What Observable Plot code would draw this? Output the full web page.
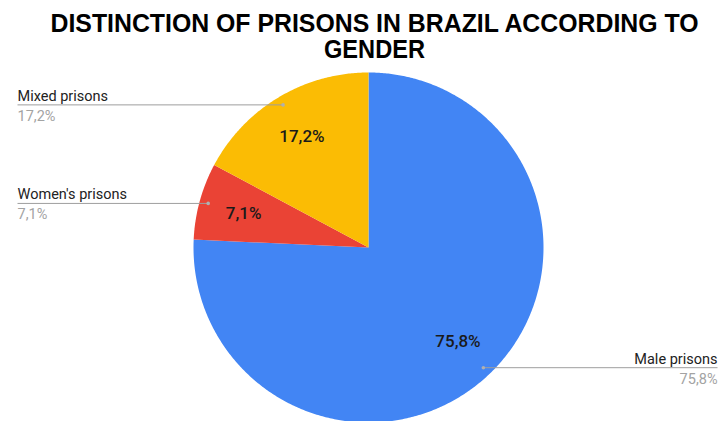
<!DOCTYPE html>
<html>
<head>
<meta charset="utf-8">
<script src="https://cdn.jsdelivr.net/npm/d3@7"></script>
<script src="https://cdn.jsdelivr.net/npm/@observablehq/plot@0.6"></script>
<style>
  html, body { margin: 0; padding: 0; background: #fff; }
  #chart svg { display: block; }
</style>
</head>
<body>
<div id="chart"></div>
<script>
// ---- Data ----
const categories = ["Male prisons", "Women's prisons", "Mixed prisons"];
const values = [75.8, 7.1, 17.2];
const valueLabels = ["75,8%", "7,1%", "17,2%"];
const colors = ["#4285F4", "#EA4335", "#FBBC04"];
const titleLines = ["DISTINCTION OF PRISONS IN BRAZIL ACCORDING TO", "GENDER"];

// ---- Layout ----
const W = 720, H = 421;
const cx = 368, cy = 247, R = 175;
const labelR = 0.74 * R, dotR = 0.95 * R;
const leftEdge = 17, rightEdge = 717;

const arcs = d3.pie().sort(null).value(d => d)(values);
const slices = arcs.map((a, i) => ({
  name: categories[i], value: values[i], label: valueLabels[i],
  start: a.startAngle, end: a.endAngle, mid: (a.startAngle + a.endAngle) / 2
}));

const pt = (a, r) => [cx + r * Math.sin(a), cy - r * Math.cos(a)];

// polygon outlines for each slice
const poly = [];
for (const s of slices) {
  poly.push({name: s.name, x: cx, y: cy});
  const n = Math.max(2, Math.ceil((s.end - s.start) / (Math.PI / 360)));
  for (let k = 0; k <= n; k++) {
    const a = s.start + (s.end - s.start) * k / n;
    const [x, y] = pt(a, R);
    poly.push({name: s.name, x, y});
  }
}

const callouts = slices.map(s => {
  const [dx, dy] = pt(s.mid, dotR);
  const [lx, ly] = pt(s.mid, labelR);
  const left = s.mid > Math.PI;
  return {...s, dx, dy, lx, ly, left, ex: left ? leftEdge : rightEdge};
});
const leftC = callouts.filter(d => d.left);
const rightC = callouts.filter(d => !d.left);

const font = "Roboto, 'Liberation Sans', Arial, sans-serif";

const sideText = (data, anchor) => [
  Plot.text(data, {x: "ex", y: d => d.dy - 4, text: "name", textAnchor: anchor,
    lineAnchor: "bottom", fontSize: 14.5, fill: "#222", fontFamily: font}),
  Plot.text(data, {x: "ex", y: d => d.dy + 16, text: "label", textAnchor: anchor,
    lineAnchor: "bottom", fontSize: 14.5, fill: "#a3a3a3", fontFamily: font})
];

const chart = Plot.plot({
  width: W, height: H,
  margin: 0,
  x: {domain: [0, W], range: [0, W], axis: null},
  y: {domain: [0, H], range: [0, H], axis: null},
  color: {domain: categories, range: colors},
  style: {fontFamily: font, background: "#fff"},
  marks: [
    Plot.line(poly, {x: "x", y: "y", z: "name", fill: "name", stroke: "none", curve: "linear-closed"}),
    Plot.link(callouts, {x1: "dx", y1: "dy", x2: "ex", y2: "dy", stroke: "#9e9e9e", strokeWidth: 1}),
    Plot.dot(callouts, {x: "dx", y: "dy", r: 1.8, fill: "#b0b0b0", stroke: "none"}),
    ...sideText(leftC, "start"),
    ...sideText(rightC, "end"),
    Plot.text(callouts, {x: "lx", y: "ly", text: "label", fontSize: 17, fontWeight: 500, fill: "#1a1a1a", fontFamily: font}),
    Plot.text(titleLines, {x: () => 374, y: (d, i) => 31 + i * 26, text: d => d, lineAnchor: "bottom",
      fontSize: 25, fontWeight: "bold", fill: "#000", fontFamily: "'Liberation Sans', Arial, sans-serif"})
  ]
});

document.getElementById("chart").appendChild(chart);

// narrow the title to match the reference's condensed look
const targetWidths = {[titleLines[0]]: 648, [titleLines[1]]: 101};
d3.select(chart).selectAll("text").each(function() {
  const w = targetWidths[this.textContent];
  if (w) {
    this.setAttribute("textLength", w);
    this.setAttribute("lengthAdjust", "spacingAndGlyphs");
  }
});
</script>
</body>
</html>
